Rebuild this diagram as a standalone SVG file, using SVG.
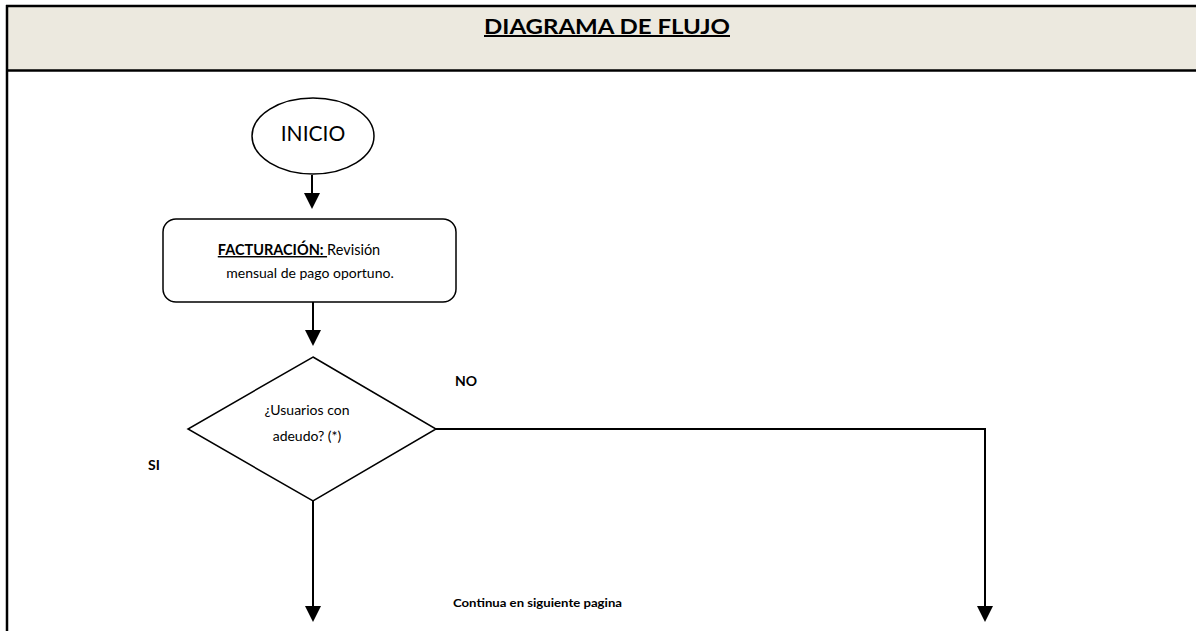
<svg xmlns="http://www.w3.org/2000/svg" width="1196" height="631" viewBox="0 0 1196 631">
<style>
.t{font-family:Lato,"Open Sans","Liberation Sans",sans-serif;fill:#000}
.shape{fill:#fff;stroke:#000;stroke-width:1.5}
.conn{fill:none;stroke:#000;stroke-width:2}
</style>
<defs>
<marker id="arr" markerWidth="8" markerHeight="8" refX="7" refY="4" orient="auto" markerUnits="strokeWidth">
<path d="M0,0 L8,4 L0,8 Z" fill="#000"/>
</marker>
</defs>
<rect x="0" y="0" width="1196" height="631" fill="#fff"/>
<g id="header">
<rect x="7" y="6" width="1200" height="64" fill="#ECE9DF"/>
<line x1="6" y1="6" x2="1196" y2="6" stroke="#000" stroke-width="2.5"/>
<line x1="6" y1="70.5" x2="1196" y2="70.5" stroke="#000" stroke-width="2.5"/>
<line x1="7" y1="5" x2="7" y2="631" stroke="#000" stroke-width="2.5"/>
<text class="t" x="607" y="34" text-anchor="middle" font-size="20" font-weight="bold" text-decoration="underline" textLength="246" lengthAdjust="spacingAndGlyphs">DIAGRAMA DE FLUJO</text>
</g>
<g id="connectors">
<line class="conn" x1="312" y1="175" x2="312" y2="207" marker-end="url(#arr)"/>
<line class="conn" x1="313" y1="302" x2="313" y2="344" marker-end="url(#arr)"/>
<line class="conn" x1="313" y1="501" x2="313" y2="620" marker-end="url(#arr)"/>
<polyline class="conn" points="436,429 985,429 985,620" marker-end="url(#arr)"/>
</g>
<g id="inicio">
<ellipse class="shape" cx="313" cy="136" rx="61" ry="38"/>
<text class="t" x="313" y="141" text-anchor="middle" font-size="21">INICIO</text>
</g>
<g id="facturacion">
<rect class="shape" x="163" y="219" width="293" height="83" rx="13"/>
<text class="t" x="299" y="255" font-size="14.5" text-anchor="middle"><tspan font-weight="bold" text-decoration="underline">FACTURACIÓN: </tspan>Revisión</text>
<text class="t" x="310" y="278" text-anchor="middle" font-size="14">mensual de pago oportuno.</text>
</g>
<g id="decision">
<polygon class="shape" points="313,357 436,429 313,501 188,429"/>
<text class="t" x="307" y="415" text-anchor="middle" font-size="14">¿Usuarios con</text>
<text class="t" x="307" y="441" text-anchor="middle" font-size="14">adeudo? (*)</text>
</g>
<g id="labels">
<text class="t" x="466" y="386" text-anchor="middle" font-size="14" font-weight="bold">NO</text>
<text class="t" x="154" y="470" text-anchor="middle" font-size="14" font-weight="bold">SI</text>
<text class="t" x="537.5" y="607" text-anchor="middle" font-size="12" font-weight="bold" textLength="169" lengthAdjust="spacingAndGlyphs">Continua en siguiente pagina</text>
</g>
</svg>
